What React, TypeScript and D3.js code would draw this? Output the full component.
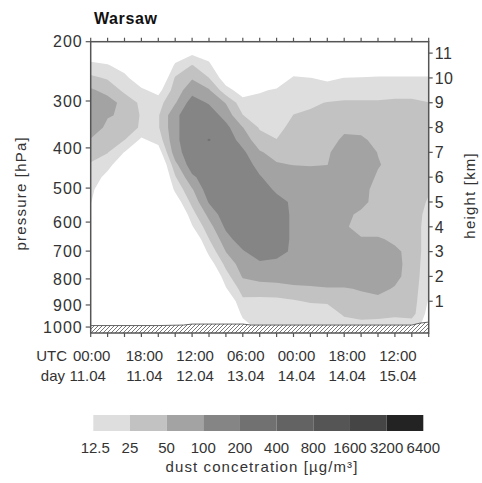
import React, { useEffect, useRef } from 'react';
import * as d3 from 'd3';

// grid columns: hours after 11.04 00:00 UTC
const gridHours = [0, 6, 12, 18, 24, 30, 36, 42, 48, 54, 60, 66, 72, 78, 84, 90, 96, 102, 108, 114, 120];
// grid rows: height in km, top row first
const gridHeights = [11.5, 11, 10.5, 10, 9.5, 9, 8.5, 8, 7.5, 7, 6.5, 6, 5.5, 5, 4.5, 4, 3.5, 3, 2.5, 2, 1.5, 1, 0.5, 0];

// dust concentration in ug/m3, one row per height, one value per column
const dust = [
  [3.8, 3.3, 3.1, 3.1, 3.1, 3.6, 5.4, 4.1, 3.1, 3.1, 3.1, 3.1, 3.1, 3.1, 3.1, 3.1, 3.1, 3.1, 3.1, 3.1, 3.1],
  [7.7, 6.7, 4.4, 3.1, 3.1, 7.2, 10.9, 8.2, 3.1, 3.1, 3.1, 3.1, 4.1, 3.1, 3.1, 3.1, 3.3, 3.6, 3.6, 3.6, 3.6],
  [15.4, 13.4, 8.8, 3.6, 3.1, 14.4, 26, 15.4, 4.1, 3.1, 3.1, 4.1, 8.2, 6.3, 5.4, 6.3, 6.7, 7.2, 7.2, 7.2, 7.2],
  [29, 23.3, 15.4, 7.2, 4.7, 27, 47, 25.3, 8.2, 4.4, 5.8, 8.2, 13.4, 12.7, 10.9, 12.7, 13, 13.4, 13.4, 13.4, 13.4],
  [57, 38, 21.8, 14.4, 9.5, 35, 76, 54, 16.5, 8.8, 11.7, 13.4, 16.5, 16.5, 17.7, 18.9, 18.9, 18.9, 18.9, 18.9, 17.7],
  [87, 71, 38, 21.8, 18.9, 47, 141, 93, 48, 16.5, 15.4, 15.4, 20.3, 23.3, 25.5, 26.8, 26.8, 26.8, 28.7, 28.7, 25.3],
  [87, 54, 43.5, 23.3, 23.3, 87, 152, 152, 76, 25.3, 18.9, 17.7, 25.3, 26.8, 28.7, 33, 33, 30.8, 35.4, 35.4, 33],
  [87, 40.6, 43.5, 21.8, 23.3, 87, 152, 152, 123, 51, 23.3, 21.8, 28.7, 30.8, 33, 43.5, 40.6, 35.4, 35.4, 35.4, 35.4],
  [46.6, 31.9, 25.2, 10.9, 16.5, 87, 152, 207, 152, 76, 33, 25.3, 35.4, 35.4, 37.9, 57, 57, 40.6, 35.4, 35.4, 35.4],
  [33, 25.9, 12.2, 5.4, 8.2, 76, 152, 152, 152, 115, 54, 37.9, 40.6, 40.6, 43.5, 87, 87, 48.3, 35.4, 35.4, 35.4],
  [23.3, 16.5, 6.3, 3.1, 4.1, 40.6, 152, 152, 152, 152, 76, 54, 49, 46.6, 49.3, 87, 87, 54, 35.4, 35.4, 33],
  [20.3, 9.5, 3.1, 3.1, 3.1, 23.3, 87, 152, 152, 152, 107, 66, 87, 81, 87, 87, 87, 43.5, 35.4, 35.4, 30.8],
  [16.5, 4.7, 3.1, 3.1, 3.1, 14.4, 46.6, 152, 152, 152, 152, 87, 87, 87, 87, 87, 87, 28.7, 35.4, 35.4, 26.8],
  [13.4, 3.1, 3.1, 3.1, 3.1, 7.7, 30.8, 107, 152, 152, 152, 132, 87, 87, 87, 87, 76, 28.7, 35.4, 35.4, 23.3],
  [7.2, 3.1, 3.1, 3.1, 3.1, 3.8, 18.9, 61.6, 152, 152, 152, 152, 87, 87, 87, 70.7, 37.9, 28.7, 35.4, 35.4, 20.3],
  [3.6, 3.1, 3.1, 3.1, 3.1, 3.1, 11.7, 37.9, 115, 152, 152, 152, 87, 87, 87, 61.6, 28.7, 28.7, 35.4, 35.4, 18.9],
  [3.1, 3.1, 3.1, 3.1, 3.1, 3.1, 5.8, 24.7, 75.8, 152, 152, 152, 87, 87, 87, 70.7, 57.4, 57.4, 40.6, 35.4, 18.9],
  [3.1, 3.1, 3.1, 3.1, 3.1, 3.1, 3.1, 15.4, 50.7, 93, 152, 132, 87, 87, 87, 87, 87, 87, 61.6, 35.4, 18.9],
  [3.1, 3.1, 3.1, 3.1, 3.1, 3.1, 3.1, 8.2, 30.8, 70.7, 87, 81, 87, 87, 87, 87, 87, 87, 66, 35.4, 17.7],
  [3.1, 3.1, 3.1, 3.1, 3.1, 3.1, 3.1, 4.1, 18.9, 53.6, 61.6, 61.6, 81, 81, 87, 87, 87, 87, 61.6, 35.4, 16.5],
  [3.1, 3.1, 3.1, 3.1, 3.1, 3.1, 3.1, 3.1, 11.7, 33, 37.9, 40.6, 40.6, 43.5, 46.6, 46.6, 53.6, 61.6, 46.6, 35.4, 14.4],
  [3.1, 3.1, 3.1, 3.1, 3.1, 3.1, 3.1, 3.1, 5.8, 21.8, 20.3, 20.3, 23.3, 26.8, 28.7, 37.9, 37.9, 40.6, 37.9, 35.4, 11.7],
  [3.1, 3.1, 3.1, 3.1, 3.1, 3.1, 3.1, 3.1, 3.1, 15.4, 16.5, 16.5, 16.5, 16.5, 15.4, 28.7, 30.8, 30.8, 28.7, 33, 9.5],
  [3.1, 3.1, 3.1, 3.1, 3.1, 3.1, 3.1, 3.1, 3.1, 8.8, 16.5, 16.5, 16.5, 15.4, 15.4, 16.5, 20.3, 18.9, 17.7, 16.5, 9.5],
];

const legendBreaks = [12.5, 25, 50, 100, 200, 400, 800, 1600, 3200, 6400];
const legendColors = ['#dedede', '#c2c2c2', '#a3a3a3', '#858585', '#717171', '#636363', '#555555', '#454545', '#232323'];

const timeTicks = [0, 18, 36, 54, 72, 90, 108];
const timeLabels = ['00:00', '18:00', '12:00', '06:00', '00:00', '18:00', '12:00'];
const dayLabels = ['11.04', '11.04', '12.04', '13.04', '14.04', '14.04', '15.04'];

const pressureTicks = [200, 300, 400, 500, 600, 700, 800, 900, 1000];
const pressureKm = [11.46, 9.07, 7.18, 5.56, 4.19, 3.02, 1.9, 0.85, -0.04];
const kmTicks = [1, 2, 3, 4, 5, 6, 7, 8, 9, 10, 11];

// ground (hatched) surface height in km
const surfaceHours = [0, 24, 33, 36, 54, 57, 114, 117, 120];
const surfaceKm = [0.02, 0.02, 0.04, 0.08, 0.08, 0.04, 0.04, 0.12, 0.16];

const font = '"Liberation Sans", Arial, sans-serif';

export default function App() {
  const ref = useRef<SVGSVGElement>(null);

  useEffect(() => {
    const svg = d3.select(ref.current);
    svg.selectAll('*').remove();

    const left = 90.7, right = 428.7, top = 41.7, bottom = 333;
    const x = d3.scaleLinear().domain([0, 120]).range([left, right]);
    const y = d3.scaleLinear().domain([-0.28, 11.46]).range([bottom, top]);
    const pressureY = d3.scaleLinear().domain(pressureTicks).range(pressureKm.map((k) => y(k)));

    const defs = svg.append('defs');
    defs.append('clipPath').attr('id', 'plot-clip')
      .append('rect')
      .attr('x', left).attr('y', top)
      .attr('width', right - left).attr('height', bottom - top);

    const hatch = defs.append('pattern')
      .attr('id', 'ground-hatch')
      .attr('patternUnits', 'userSpaceOnUse')
      .attr('width', 4).attr('height', 4);
    hatch.append('rect').attr('width', 4).attr('height', 4).attr('fill', '#fff');
    hatch.append('path')
      .attr('d', 'M-1,1L1,-1M0,4L4,0M3,5L5,3')
      .attr('stroke', '#555')
      .attr('stroke-width', 0.8);

    // grid index -> hours / km (d3.contours puts sample i at i + 0.5)
    const col = d3.scaleLinear().domain([0.5, gridHours.length - 0.5]).range([gridHours[0], gridHours[gridHours.length - 1]]);
    const row = d3.scaleLinear().domain([0.5, gridHeights.length - 0.5]).range([gridHeights[0], gridHeights[gridHeights.length - 1]]);
    const projection = d3.geoTransform({
      point(px, py) {
        this.stream.point(x(col(px)), y(row(py)));
      }
    });
    const path = d3.geoPath(projection);

    const contours = d3.contours()
      .size([gridHours.length, gridHeights.length])
      .thresholds(legendBreaks.slice(0, -1).map(Math.log2))(dust.flat().map(Math.log2));

    svg.append('g')
      .attr('clip-path', 'url(#plot-clip)')
      .selectAll('path')
      .data(contours)
      .join('path')
      .attr('d', path)
      .attr('fill', (d, i) => legendColors[i]);

    // ground
    svg.append('path')
      .datum(surfaceKm)
      .attr('d', d3.area<number>().x((d, i) => x(surfaceHours[i])).y0(y(-0.28)).y1((d) => y(d)))
      .attr('fill', 'url(#ground-hatch)');
    svg.append('path')
      .datum(surfaceKm)
      .attr('d', d3.line<number>().x((d, i) => x(surfaceHours[i])).y((d) => y(d)))
      .attr('fill', 'none')
      .attr('stroke', '#555')
      .attr('stroke-width', 0.9);

    // frame
    svg.append('rect')
      .attr('x', left).attr('y', top)
      .attr('width', right - left).attr('height', bottom - top)
      .attr('fill', 'none')
      .attr('stroke', '#555')
      .attr('stroke-width', 1.5);

    const ticks = svg.append('g').attr('stroke', '#555').attr('stroke-width', 1.2);
    ticks.selectAll('.top').data(gridHours).join('line')
      .attr('x1', (d) => x(d)).attr('x2', (d) => x(d))
      .attr('y1', top).attr('y2', top - 4);
    ticks.selectAll('.bottom').data(gridHours).join('line')
      .attr('x1', (d) => x(d)).attr('x2', (d) => x(d))
      .attr('y1', bottom).attr('y2', bottom + 4);
    ticks.selectAll('.left').data(pressureTicks).join('line')
      .attr('x1', left - 5).attr('x2', left)
      .attr('y1', (d) => pressureY(d)).attr('y2', (d) => pressureY(d));
    ticks.selectAll('.right').data(kmTicks).join('line')
      .attr('x1', right).attr('x2', right + 4)
      .attr('y1', (d) => y(d)).attr('y2', (d) => y(d));

    const text = svg.append('g').style('font-family', font).attr('fill', '#333');

    text.selectAll('.p').data(pressureTicks).join('text')
      .attr('x', left - 8)
      .attr('y', (d) => pressureY(d))
      .attr('dy', '0.36em')
      .attr('text-anchor', 'end')
      .style('font-size', '16px')
      .style('letter-spacing', '1px')
      .text((d) => d);

    text.selectAll('.k').data(kmTicks).join('text')
      .attr('x', right + 6)
      .attr('y', (d) => y(d))
      .attr('dy', '0.36em')
      .style('font-size', '16px')
      .style('letter-spacing', '0.5px')
      .text((d) => d);

    text.selectAll('.t').data(timeTicks).join('text')
      .attr('x', (d, i) => x(d) + (i ? 3 : 1))
      .attr('y', 361)
      .attr('text-anchor', 'middle')
      .style('font-size', '15px')
      .text((d, i) => timeLabels[i]);
    text.selectAll('.d').data(timeTicks).join('text')
      .attr('x', (d, i) => x(d) + (i ? 3 : -3))
      .attr('y', 381)
      .attr('text-anchor', 'middle')
      .style('font-size', '15px')
      .text((d, i) => dayLabels[i]);
    text.append('text').attr('x', 67).attr('y', 361).attr('text-anchor', 'end').style('font-size', '15px').text('UTC');
    text.append('text').attr('x', 65).attr('y', 381).attr('text-anchor', 'end').style('font-size', '15px').text('day');

    text.append('text')
      .attr('transform', `translate(26,${(top + bottom) / 2 + 6}) rotate(-90)`)
      .attr('text-anchor', 'middle')
      .style('font-size', '15px')
      .style('letter-spacing', '1.2px')
      .text('pressure [hPa]');
    text.append('text')
      .attr('transform', `translate(475,${(top + bottom) / 2 + 8}) rotate(-90)`)
      .attr('text-anchor', 'middle')
      .style('font-size', '15px')
      .style('letter-spacing', '1.2px')
      .text('height [km]');

    svg.append('text')
      .attr('x', 94).attr('y', 24)
      .style('font-family', font)
      .style('font-size', '16px')
      .style('font-weight', 'bold')
      .style('letter-spacing', '0.6px')
      .attr('fill', '#111')
      .text('Warsaw');

    // legend
    const lx = d3.scaleLinear().domain([0, legendColors.length]).range([93.3, 423.3]);
    svg.append('g').selectAll('rect').data(legendColors).join('rect')
      .attr('x', (d, i) => lx(i))
      .attr('y', 415)
      .attr('width', (d, i) => lx(i + 1) - lx(i))
      .attr('height', 16)
      .attr('fill', (d) => d);
    text.selectAll('.l').data(legendBreaks).join('text')
      .attr('x', (d, i) => lx(i) + (i ? 0 : 2))
      .attr('y', 453)
      .attr('text-anchor', 'middle')
      .style('font-size', '15px')
      .text((d) => d);
    text.append('text')
      .attr('x', 262)
      .attr('y', 472)
      .attr('text-anchor', 'middle')
      .style('font-size', '15px')
      .style('letter-spacing', '1.1px')
      .text('dust concetration [\u00b5g/m\u00b3]');
  }, []);

  return (
    <svg
      ref={ref}
      width={482}
      height={483}
      style={{ position: 'absolute', left: 0, top: 0, background: '#fff' }}
    />
  );
}
